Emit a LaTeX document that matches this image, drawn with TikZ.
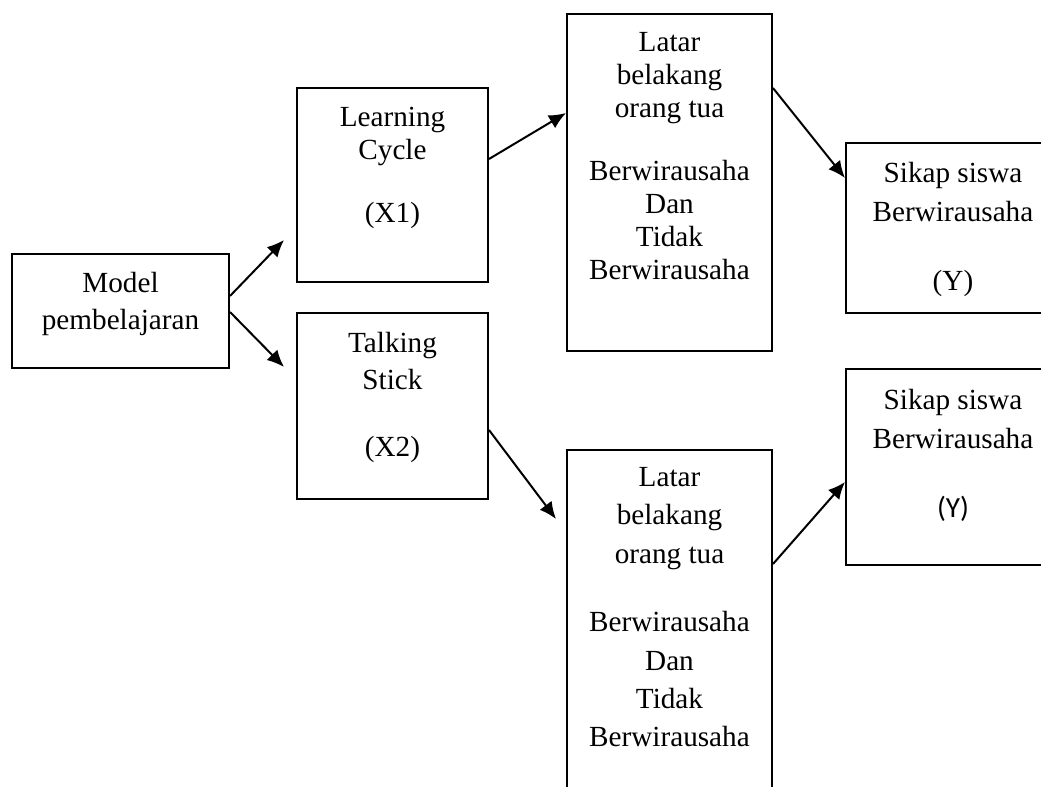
\documentclass[tikz,border=0pt]{standalone}
\usepackage{fontspec}
\setmainfont{Liberation Serif}
\newfontfamily\sansY{Carlito}
\usetikzlibrary{positioning,arrows.meta}

\begin{document}
\begin{tikzpicture}[x=.5pt,y=-.5pt,>={Latex[length=8.5pt,width=7.5pt]}]

% node style definition
\tikzstyle{box} = [draw, line width=1pt, rectangle, inner sep=0pt];
\tikzstyle{link} = [->, line width=1pt];
\tikzset{txt/.style={align=center, inner sep=0pt,
	font=\fontsize{14.6}{#1}\selectfont}, txt/.default=18.5}

\useasboundingbox (0,0) rectangle (1041,787);

% boxes
\node[box,minimum width=108.5pt,minimum height=57pt] (mp) at (120.5,311) {};
\node[box,minimum width=95.5pt,minimum height=97pt] (lc) at (392.5,185) {};
\node[box,minimum width=95.5pt,minimum height=93pt] (ts) at (392.5,406) {};
\node[box,minimum width=102.5pt,minimum height=168.5pt] (lt1) at (669.5,182.5) {};
\node[box,minimum width=102.5pt,minimum height=190pt] (lt2) at (669.5,640) {};
\node[box,minimum width=107pt,minimum height=85pt] (sk1) at (953,228) {};
\node[box,minimum width=107pt,minimum height=98pt] (sk2) at (953,467) {};

% texts
\node[txt, below=9.5pt of mp.north] (mptxt) {Model\\pembelajaran};
\node[txt=16.5, below=10pt of lc.north] (lctxt) {Learning\\Cycle\\[15pt](X1)};
\node[txt, below=10pt of ts.north] (tstxt) {Talking\\Stick\\[15pt](X2)};
\node[txt=16.5, below=9.5pt of lt1.north] (lt1txt)
	{Latar\\belakang\\orang tua\\[15pt]Berwirausaha\\Dan\\Tidak\\Berwirausaha};
\node[txt=19.2, below=9pt of lt2.north] (lt2txt)
	{Latar\\belakang\\orang tua\\[15pt]Berwirausaha\\Dan\\Tidak\\Berwirausaha};
\node[txt=19.5, below=10pt of sk1.north] (sk1txt) {Sikap siswa\\Berwirausaha\\[15pt](Y)};
\node[txt=19.5, below=10.5pt of sk2.north] (sk2txt)
	{Sikap siswa\\Berwirausaha\\[15pt]{\sansY (Y)}};

% arrows
\draw[link] ([yshift=7.5pt]mp.east) -- ([xshift=-6pt,yshift=-27.5pt]lc.west);
\draw[link] ([yshift=-0.5pt]mp.east) -- ([xshift=-6pt,yshift=19.5pt]ts.west);
\draw[link] ([yshift=13pt]lc.east) -- ([yshift=34.75pt]lt1.west);
\draw[link] ([yshift=47.25pt]lt1.east) -- ([yshift=25pt]sk1.west);
\draw[link] ([yshift=-12pt]ts.east) -- ([xshift=-5pt,yshift=-35pt]lt2.north west);
\draw[link] ([yshift=-57.5pt]lt2.north east) -- ([yshift=-7.5pt]sk2.west);

\end{tikzpicture}
\end{document}
